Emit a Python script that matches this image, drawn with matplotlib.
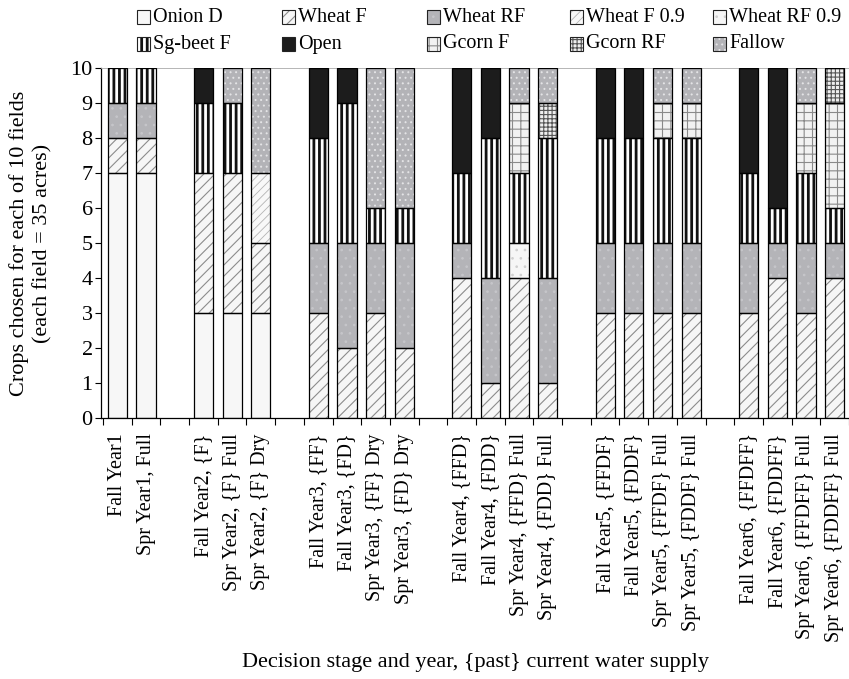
import matplotlib
matplotlib.use('Agg')
import matplotlib.pyplot as plt
from matplotlib.patches import Rectangle
import numpy as np

plt.rcParams['font.family'] = 'Liberation Serif'
plt.rcParams['hatch.linewidth'] = 0.7

# decision stages ('' = gap between years)
labels = ['Fall Year1', 'Spr Year1, Full', '',
          'Fall Year2, {F}', 'Spr Year2, {F} Full', 'Spr Year2, {F} Dry', '',
          'Fall Year3, {FF}', 'Fall Year3, {FD}', 'Spr Year3, {FF} Dry', 'Spr Year3, {FD} Dry', '',
          'Fall Year4, {FFD}', 'Fall Year4, {FDD}', 'Spr Year4, {FFD} Full', 'Spr Year4, {FDD} Full', '',
          'Fall Year5, {FFDF}', 'Fall Year5, {FDDF}', 'Spr Year5, {FFDF} Full', 'Spr Year5, {FDDF} Full', '',
          'Fall Year6, {FFDFF}', 'Fall Year6, {FDDFF}', 'Spr Year6, {FFDFF} Full', 'Spr Year6, {FDDFF} Full']

crops = ['Onion D', 'Wheat F', 'Wheat RF', 'Wheat F 0.9', 'Wheat RF 0.9',
         'Sg-beet F', 'Open', 'Gcorn F', 'Gcorn RF', 'Fallow']

# number of fields per crop, one value per slot
onion_d    = [7, 7, 0, 3, 3, 3, 0, 0, 0, 0, 0, 0, 0, 0, 0, 0, 0, 0, 0, 0, 0, 0, 0, 0, 0, 0]
wheat_f    = [1, 1, 0, 4, 4, 2, 0, 3, 2, 3, 2, 0, 4, 1, 4, 1, 0, 3, 3, 3, 3, 0, 3, 4, 3, 4]
wheat_rf   = [1, 1, 0, 0, 0, 0, 0, 2, 3, 2, 3, 0, 1, 3, 0, 3, 0, 2, 2, 2, 2, 0, 2, 1, 2, 1]
wheat_f09  = [0, 0, 0, 0, 0, 2, 0, 0, 0, 0, 0, 0, 0, 0, 0, 0, 0, 0, 0, 0, 0, 0, 0, 0, 0, 0]
wheat_rf09 = [0, 0, 0, 0, 0, 0, 0, 0, 0, 0, 0, 0, 0, 0, 1, 0, 0, 0, 0, 0, 0, 0, 0, 0, 0, 0]
sgbeet_f   = [1, 1, 0, 2, 2, 0, 0, 3, 4, 1, 1, 0, 2, 4, 2, 4, 0, 3, 3, 3, 3, 0, 2, 1, 2, 1]
open_land  = [0, 0, 0, 1, 0, 0, 0, 2, 1, 0, 0, 0, 3, 2, 0, 0, 0, 2, 2, 0, 0, 0, 3, 4, 0, 0]
gcorn_f    = [0, 0, 0, 0, 0, 0, 0, 0, 0, 0, 0, 0, 0, 0, 2, 0, 0, 0, 0, 1, 1, 0, 0, 0, 2, 3]
gcorn_rf   = [0, 0, 0, 0, 0, 0, 0, 0, 0, 0, 0, 0, 0, 0, 0, 1, 0, 0, 0, 0, 0, 0, 0, 0, 0, 1]
fallow     = [0, 0, 0, 0, 1, 3, 0, 0, 0, 4, 4, 0, 0, 0, 1, 1, 0, 0, 0, 1, 1, 0, 0, 0, 1, 0]

series = [onion_d, wheat_f, wheat_rf, wheat_f09, wheat_rf09,
          sgbeet_f, open_land, gcorn_f, gcorn_rf, fallow]

# face colour, hatch, hatch colour, hatch linewidth
styles = [
    ('#f7f7f7', None, None, 0.7),
    ('#f6f6f6', '///', '#8c8c8c', 0.8),
    ('#b4b4b8', '..', '#c6c6ca', 0.7),
    ('#f8f8f8', '////', '#b4b4b4', 0.6),
    ('#f6f6f6', '..', '#d0d0d0', 0.7),
    ('#ffffff', '|||', '#111111', 2.0),
    ('#1c1c1c', None, None, 0.7),
    ('#f2f2f2', '++', '#8a8a8a', 0.8),
    ('#eeeeee', '++++', '#555555', 0.8),
    ('#b3b3b7', '...', '#e4e4e6', 0.7),
]

W, H = 849, 679
fig = plt.figure(figsize=(W / 100, H / 100), dpi=100)
ax = fig.add_axes([101 / W, 261 / H, 748 / W, 350 / H])

x = np.arange(len(labels))
width = 0.67
bottom = np.zeros(len(labels))
for vals, (fc, hatch, hc, hlw) in zip(series, styles):
    vals = np.array(vals, dtype=float)
    m = vals > 0
    ax.bar(x[m], vals[m], width, bottom=bottom[m], color=fc, linewidth=0, zorder=2)
    if hatch:
        bars = ax.bar(x[m], vals[m], width, bottom=bottom[m], facecolor='none',
                      edgecolor=hc, linewidth=0, hatch=hatch, zorder=3)
        for b in bars:
            b.set_hatch_linewidth(hlw)
    ax.bar(x[m], vals[m], width, bottom=bottom[m], facecolor='none',
           edgecolor='black', linewidth=0.9, zorder=4)
    bottom += vals

ax.set_xlim(-0.57, -0.5 + 746 / 29)
ax.set_ylim(0, 10)
ax.set_yticks(range(11))
ax.tick_params(axis='y', labelsize=16, length=4, width=0.8, direction='out', pad=2)

bar_pos = [i for i, l in enumerate(labels) if l]
ax.set_xticks(bar_pos)
ax.set_xticklabels([labels[i] for i in bar_pos], rotation=90, fontsize=14.5)
ax.set_xticks(np.arange(-0.5, len(labels) + 0.5), minor=True)
ax.tick_params(axis='x', which='major', length=0, pad=11)
ax.tick_params(axis='x', which='minor', length=5, width=0.8, direction='out')

ax.spines['right'].set_visible(False)
ax.spines['top'].set_color('#aaaaaa')
ax.spines['top'].set_linewidth(0.6)
ax.spines['left'].set_linewidth(0.9)
ax.spines['bottom'].set_linewidth(0.9)

ax.set_ylabel('Crops chosen for each of 10 fields\n(each field = 35 acres)',
              fontsize=16, linespacing=1.3, va='center')
ax.yaxis.set_label_coords((31 - 101) / 748, 0.5)
ax.set_xlabel('Decision stage and year, {past} current water supply', fontsize=16, va='center')
ax.xaxis.set_label_coords(0.5, (418 - 662) / 350)

# legend, two rows of five
col_x = [137, 282, 427, 570, 713]
row_y = [17, 44]
ps = 13
for i, (name, (fc, hatch, hc, hlw)) in enumerate(zip(crops, styles)):
    px = col_x[i % 5]
    py = row_y[i // 5]
    x0, y0 = px / W, 1 - (py + ps / 2) / H
    fig.add_artist(Rectangle((x0, y0), ps / W, ps / H, transform=fig.transFigure,
                             facecolor=fc, linewidth=0))
    if hatch:
        r = Rectangle((x0, y0), ps / W, ps / H, transform=fig.transFigure,
                      facecolor='none', edgecolor=hc, linewidth=0, hatch=hatch)
        r.set_hatch_linewidth(hlw)
        fig.add_artist(r)
    fig.add_artist(Rectangle((x0, y0), ps / W, ps / H, transform=fig.transFigure,
                             facecolor='none', edgecolor='#222222', linewidth=0.8))
    fig.text((px + 16) / W, 1 - py / H, name, fontsize=14.5, va='center', ha='left')

fig.savefig('out.png', dpi=100)
plt.close(fig)
